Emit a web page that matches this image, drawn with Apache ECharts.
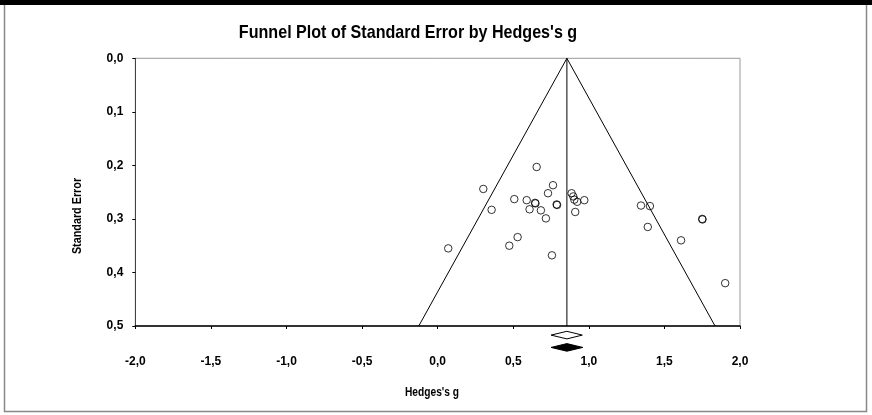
<!DOCTYPE html>
<html>
<head>
<meta charset="utf-8">
<script src="https://cdn.jsdelivr.net/npm/echarts@6/dist/echarts.min.js"></script>
<style>html,body{margin:0;padding:0;background:#fff;}#c{width:872px;height:415px;}</style>
</head>
<body>
<div id="c"></div>
<script>
// ---- data ----
var hedgesG = [0.655, 0.302, 0.763, 0.730, 0.507, 0.589, 0.644, 0.647, 0.608, 0.683, 0.716, 0.787, 0.790, 0.529, 0.474, 0.756, 0.070, 0.357, 0.886, 0.897, 0.904, 0.923, 0.970, 0.910, 1.345, 1.404, 1.390, 1.750, 1.752, 1.610, 1.902];
var stdErr  = [0.203, 0.244, 0.237, 0.252, 0.263, 0.265, 0.270, 0.271, 0.282, 0.284, 0.299, 0.273, 0.274, 0.334, 0.350, 0.368, 0.355, 0.283, 0.252, 0.258, 0.264, 0.268, 0.265, 0.287, 0.275, 0.276, 0.315, 0.300, 0.301, 0.340, 0.420];
var funnelX = [-0.125, 0.855, 1.835];
var funnelY = [0.5, 0.0, 0.5];
var meanLineX = [0.855, 0.855];
var meanLineY = [0.0, 0.5];
// diamonds: [lower, point, upper, row(se-position below axis)]
var openDiamond   = [0.750, 0.855, 0.957, 0.517];
var filledDiamond = [0.750, 0.855, 0.960, 0.540];
var xTicks = [-2.0, -1.5, -1.0, -0.5, 0.0, 0.5, 1.0, 1.5, 2.0];
var yTicks = [0.0, 0.1, 0.2, 0.3, 0.4, 0.5];

var FONT = "'Liberation Sans',Arial,sans-serif";
function fmt(v){ return v.toFixed(1).replace('.', ','); }

var chart = echarts.init(document.getElementById('c'), null, {renderer:'canvas'});

function diamondSeries(d, filled){
  return {
    type:'custom', coordinateSystem:'cartesian2d', clip:false, silent:true, z:5,
    data:[d],
    renderItem:function(params, api){
      var l = api.coord([api.value(0), api.value(3)]);
      var m = api.coord([api.value(1), api.value(3)]);
      var r = api.coord([api.value(2), api.value(3)]);
      var h = 3.8;
      return {type:'polygon', shape:{points:[[l[0],l[1]],[m[0],l[1]-h],[r[0],l[1]],[m[0],l[1]+h]]},
        style:{fill: filled ? '#000' : '#fff', stroke:'#000', lineWidth:1}};
    }
  };
}

var option = {
  animation:false,
  backgroundColor:'#fff',
  grid:{left:135.3, right:132, top:58.3, bottom:89, show:true, borderColor:'#999', borderWidth:1, backgroundColor:'transparent'},
  xAxis:{type:'value', min:-2, max:2, interval:0.5,
    axisLine:{show:true, onZero:false, lineStyle:{color:'#000', width:1.5}},
    axisTick:{show:true, length:3, lineStyle:{color:'#000'}},
    splitLine:{show:false},
    axisLabel:{margin:30, formatter:fmt, fontFamily:FONT, fontWeight:'bold', fontSize:12, color:'#000'}
  },
  yAxis:{type:'value', inverse:true, min:0, max:0.5, interval:0.1,
    axisLine:{show:true, onZero:false, lineStyle:{color:'#444', width:1}},
    axisTick:{show:true, length:3, lineStyle:{color:'#000'}},
    splitLine:{show:false},
    axisLabel:{margin:12, formatter:fmt, fontFamily:FONT, fontWeight:'bold', fontSize:12, color:'#000'}
  },
  graphic:[
    {type:'rect', shape:{x:4.5, y:0, width:862, height:411.5}, style:{fill:'none', stroke:'#888', lineWidth:1.5}, z:-1},
    {type:'rect', shape:{x:0, y:0, width:872, height:5}, style:{fill:'#000'}},
    {type:'text', x:408, y:33, scaleX:0.87, style:{text:"Funnel Plot of Standard Error by Hedges's g", font:"bold 18.5px "+FONT, fill:'#000', align:'center', verticalAlign:'middle'}},
    {type:'text', x:432, y:392.5, scaleX:0.85, style:{text:"Hedges's g", font:"bold 12px "+FONT, fill:'#000', align:'center', verticalAlign:'middle'}},
    {type:'text', x:78, y:216, rotation:Math.PI/2, scaleX:0.9, style:{text:"Standard Error", font:"bold 12px "+FONT, fill:'#000', align:'center', verticalAlign:'middle'}}
  ],
  series:[
    {type:'line', data:funnelX.map(function(x,i){return [x, funnelY[i]];}), symbol:'none', lineStyle:{color:'#000', width:1}, silent:true, z:2},
    {type:'line', data:meanLineX.map(function(x,i){return [x, meanLineY[i]];}), symbol:'none', lineStyle:{color:'#000', width:1}, silent:true, z:2},
    {type:'scatter', data:hedgesG.map(function(g,i){return [g, stdErr[i]];}), symbol:'circle', symbolSize:7.5,
      itemStyle:{color:'transparent', borderColor:'#000', borderWidth:1}, z:3},
    diamondSeries(openDiamond, false),
    diamondSeries(filledDiamond, true)
  ]
};
chart.setOption(option);
</script>
</body>
</html>
